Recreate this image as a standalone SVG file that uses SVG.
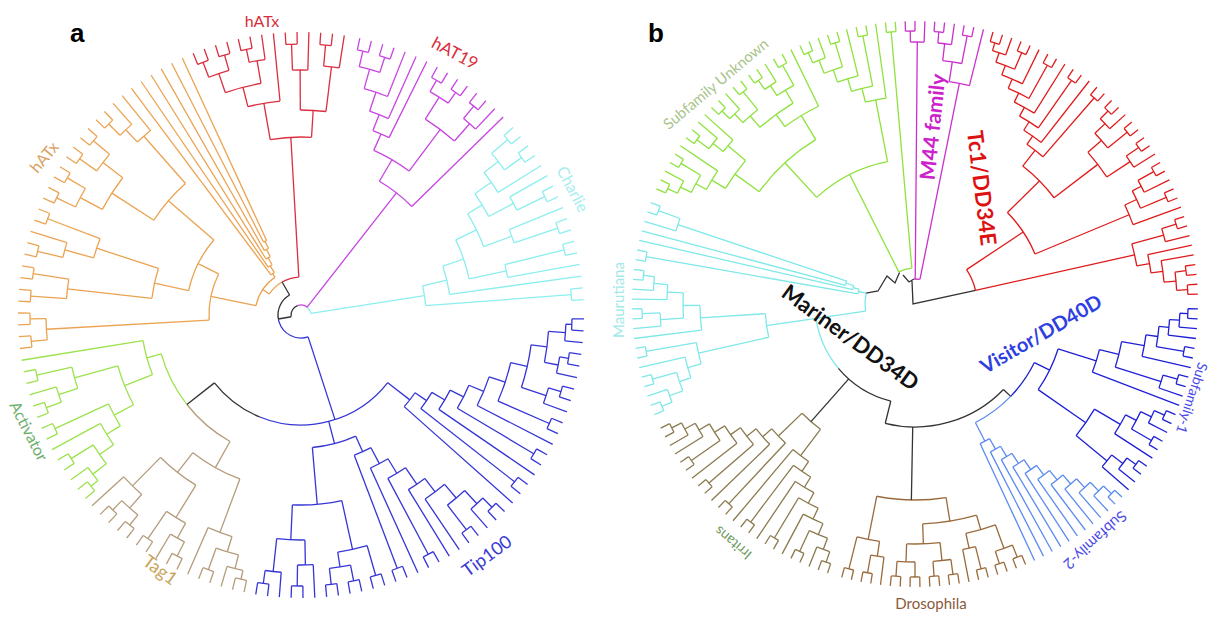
<svg xmlns="http://www.w3.org/2000/svg" xmlns:xlink="http://www.w3.org/1999/xlink" width="1215" height="624" viewBox="0 0 1215 624">
<style>
.t{fill:none;stroke-width:1.3}
.cy{stroke:#8CEEEE}.bl{stroke:#3535D5}.tn{stroke:#B49C7C}.gr{stroke:#9CE24C}.or{stroke:#EBA352}.rd{stroke:#D92F40}.mg{stroke:#C845E2}.k{stroke:#333}
.g2{stroke:#8EE23E}.m2{stroke:#CC30CC}.r2{stroke:#E01A1A}.b1{stroke:#1F1FD6}.b2{stroke:#5B8BF0}.dr{stroke:#9A6A3C}.ir{stroke:#8A7A4E}.c2{stroke:#7FE8E8}
text{font-family:Lato,"Open Sans","Liberation Sans",sans-serif;text-anchor:middle}
.lt{font-family:"Liberation Sans",Arial,sans-serif;font-weight:bold;font-size:26px;fill:#000;text-anchor:start}
</style>
<defs>
<g id="k"><path d="M271 0H283"/><path d="M271 0H283" transform="rotate(2.4)"/><circle r="271" pathLength="360" stroke-dasharray="2.4 999"/></g>
<g id="q"><path d="M273 0H283"/><path d="M273 0H283" transform="rotate(2)"/><circle r="273" pathLength="360" stroke-dasharray="2 999"/></g>
</defs>

<text class="lt" x="70" y="42">a</text>
<text class="lt" x="648" y="42">b</text>

<g id="treeA" class="t" transform="translate(301 315)">
<g id="a-charlie" class="cy">
<use href="#k" transform="rotate(-41.5)"/><use href="#k" transform="rotate(-36.7)"/><use href="#k" transform="rotate(-27.1)"/><use href="#k" transform="rotate(-19.9)"/><use href="#k" transform="rotate(-15.1)"/><use href="#k" transform="rotate(-5.5)"/>
<path d="M232 0H283" transform="rotate(-31.9)"/><path d="M240 0H283" transform="rotate(-29.5)"/><path d="M225 0H283" transform="rotate(-22.3)"/><path d="M210 0H283" transform="rotate(-10.3)"/><path d="M150 0H283" transform="rotate(-7.9)"/>
<path d="M250 0H271" transform="rotate(-40.3)"/><path d="M250 0H271" transform="rotate(-35.5)"/><path d="M240 0H271" transform="rotate(-25.9)"/><path d="M225 0H271" transform="rotate(-18.7)"/><path d="M210 0H271" transform="rotate(-13.9)"/><path d="M125 0H271" transform="rotate(-4.3)"/>
<circle r="250" pathLength="360" stroke-dasharray="4.8 999" transform="rotate(-40.3)"/><path d="M232 0H250" transform="rotate(-37.9)"/>
<circle r="232" pathLength="360" stroke-dasharray="6 999" transform="rotate(-37.9)"/><path d="M212 0H232" transform="rotate(-34.9)"/>
<circle r="240" pathLength="360" stroke-dasharray="3.6 999" transform="rotate(-29.5)"/><path d="M212 0H240" transform="rotate(-27.7)"/>
<circle r="212" pathLength="360" stroke-dasharray="7.2 999" transform="rotate(-34.9)"/><path d="M195 0H212" transform="rotate(-31.3)"/>
<circle r="225" pathLength="360" stroke-dasharray="3.6 999" transform="rotate(-22.3)"/><path d="M195 0H225" transform="rotate(-20.5)"/>
<circle r="195" pathLength="360" stroke-dasharray="10.8 999" transform="rotate(-31.3)"/><path d="M172 0H195" transform="rotate(-25.9)"/>
<circle r="210" pathLength="360" stroke-dasharray="3.6 999" transform="rotate(-13.9)"/><path d="M172 0H210" transform="rotate(-12.1)"/>
<circle r="172" pathLength="360" stroke-dasharray="13.8 999" transform="rotate(-25.9)"/><path d="M150 0H172" transform="rotate(-19)"/>
<circle r="150" pathLength="360" stroke-dasharray="11.1 999" transform="rotate(-19)"/><path d="M125 0H150" transform="rotate(-13.45)"/>
<circle r="125" pathLength="360" stroke-dasharray="9.15 999" transform="rotate(-13.45)"/><path d="M10 0H125" transform="rotate(-8.875)"/>
<circle r="10" pathLength="360" stroke-dasharray="43.125 999" transform="rotate(308)"/>
</g>
<g id="a-tip100" class="bl">
<use href="#k" transform="rotate(0.8)"/><use href="#k" transform="rotate(8)"/><use href="#k" transform="rotate(15.2)"/><use href="#k" transform="rotate(22.4)"/><use href="#k" transform="rotate(29.6)"/><use href="#k" transform="rotate(36.8)"/>
<path d="M265 0H283" transform="rotate(5.6)"/><path d="M262 0H283" transform="rotate(12.8)"/><path d="M258 0H283" transform="rotate(20)"/><path d="M198 0H283" transform="rotate(27.2)"/><path d="M167 0H283" transform="rotate(34.4)"/><path d="M138 0H283" transform="rotate(41.6)"/>
<path d="M265 0H271" transform="rotate(2)"/><path d="M262 0H271" transform="rotate(9.2)"/><path d="M258 0H271" transform="rotate(16.4)"/><path d="M215 0H271" transform="rotate(23.6)"/><path d="M182 0H271" transform="rotate(30.8)"/><path d="M152 0H271" transform="rotate(38)"/>
<circle r="265" pathLength="360" stroke-dasharray="3.6 999" transform="rotate(2)"/><path d="M248 0H265" transform="rotate(3.8)"/>
<circle r="262" pathLength="360" stroke-dasharray="3.6 999" transform="rotate(9.2)"/><path d="M248 0H262" transform="rotate(11)"/>
<circle r="248" pathLength="360" stroke-dasharray="7.2 999" transform="rotate(3.8)"/><path d="M232 0H248" transform="rotate(7.4)"/>
<circle r="258" pathLength="360" stroke-dasharray="3.6 999" transform="rotate(16.4)"/><path d="M232 0H258" transform="rotate(18.2)"/>
<circle r="232" pathLength="360" stroke-dasharray="10.8 999" transform="rotate(7.4)"/><path d="M215 0H232" transform="rotate(12.8)"/>
<circle r="215" pathLength="360" stroke-dasharray="10.8 999" transform="rotate(12.8)"/><path d="M198 0H215" transform="rotate(18.2)"/>
<circle r="198" pathLength="360" stroke-dasharray="9 999" transform="rotate(18.2)"/><path d="M182 0H198" transform="rotate(22.7)"/>
<circle r="182" pathLength="360" stroke-dasharray="8.1 999" transform="rotate(22.7)"/><path d="M167 0H182" transform="rotate(26.75)"/>
<circle r="167" pathLength="360" stroke-dasharray="7.65 999" transform="rotate(26.75)"/><path d="M152 0H167" transform="rotate(30.575)"/>
<circle r="152" pathLength="360" stroke-dasharray="7.425 999" transform="rotate(30.575)"/><path d="M138 0H152" transform="rotate(34.29)"/>
<circle r="138" pathLength="360" stroke-dasharray="7.31 999" transform="rotate(34.29)"/><path d="M110 0H138" transform="rotate(37.95)"/>
<use href="#k" transform="rotate(44)"/><path d="M258 0H271" transform="rotate(45.2)"/><path d="M258 0H283" transform="rotate(48.8)"/>
<circle r="258" pathLength="360" stroke-dasharray="3.6 999" transform="rotate(45.2)"/><path d="M240 0H258" transform="rotate(47)"/>
<use href="#k" transform="rotate(51.2)"/><path d="M240 0H271" transform="rotate(52.4)"/>
<circle r="240" pathLength="360" stroke-dasharray="5.4 999" transform="rotate(47)"/><path d="M222 0H240" transform="rotate(49.7)"/>
<path d="M222 0H283" transform="rotate(56)"/><circle r="222" pathLength="360" stroke-dasharray="6.3 999" transform="rotate(49.7)"/><path d="M205 0H222" transform="rotate(52.85)"/>
<path d="M205 0H283" transform="rotate(58.4)"/><circle r="205" pathLength="360" stroke-dasharray="5.55 999" transform="rotate(52.85)"/><path d="M185 0H205" transform="rotate(55.625)"/>
<use href="#k" transform="rotate(60.8)"/><path d="M185 0H271" transform="rotate(62)"/><circle r="185" pathLength="360" stroke-dasharray="6.375 999" transform="rotate(55.625)"/><path d="M168 0H185" transform="rotate(58.81)"/>
<path d="M168 0H283" transform="rotate(65.6)"/><circle r="168" pathLength="360" stroke-dasharray="6.79 999" transform="rotate(58.81)"/><path d="M150 0H168" transform="rotate(62.2)"/>
<use href="#k" transform="rotate(68)"/><path d="M150 0H271" transform="rotate(69.2)"/><circle r="150" pathLength="360" stroke-dasharray="7 999" transform="rotate(62.2)"/><path d="M133 0H150" transform="rotate(65.7)"/>
<use href="#k" transform="rotate(96.8)"/><path d="M258 0H271" transform="rotate(98)"/><path d="M258 0H283" transform="rotate(94.4)"/>
<circle r="258" pathLength="360" stroke-dasharray="3.6 999" transform="rotate(94.4)"/><path d="M225 0H258" transform="rotate(96.2)"/>
<use href="#k" transform="rotate(89.6)"/><path d="M250 0H271" transform="rotate(90.8)"/><path d="M250 0H283" transform="rotate(87.2)"/>
<circle r="250" pathLength="360" stroke-dasharray="3.6 999" transform="rotate(87.2)"/><path d="M225 0H250" transform="rotate(89)"/>
<circle r="225" pathLength="360" stroke-dasharray="7.2 999" transform="rotate(89)"/><path d="M190 0H225" transform="rotate(92.6)"/>
<use href="#k" transform="rotate(82.4)"/><path d="M255 0H271" transform="rotate(83.6)"/><use href="#k" transform="rotate(77.6)"/><path d="M255 0H271" transform="rotate(78.8)"/>
<circle r="255" pathLength="360" stroke-dasharray="4.8 999" transform="rotate(78.8)"/><path d="M240 0H255" transform="rotate(81.2)"/>
<use href="#k" transform="rotate(72.8)"/><path d="M240 0H271" transform="rotate(74)"/>
<circle r="240" pathLength="360" stroke-dasharray="7.2 999" transform="rotate(74)"/><path d="M190 0H240" transform="rotate(77.6)"/>
<circle r="190" pathLength="360" stroke-dasharray="15 999" transform="rotate(77.6)"/><path d="M133 0H190" transform="rotate(85.1)"/>
<circle r="133" pathLength="360" stroke-dasharray="19.4 999" transform="rotate(65.7)"/><path d="M110 0H133" transform="rotate(75.4)"/>
<circle r="110" pathLength="360" stroke-dasharray="74.05 999" transform="rotate(37.95)"/>
<path d="M23 0H110" transform="rotate(72)"/>
<circle r="23" pathLength="360" stroke-dasharray="98 999" transform="rotate(72)"/>
</g>
<g id="a-tag1" class="tn">
<use href="#k" transform="rotate(101.6)"/><path d="M262 0H271" transform="rotate(102.8)"/><path d="M262 0H283" transform="rotate(106.4)"/>
<circle r="262" pathLength="360" stroke-dasharray="3.6 999" transform="rotate(102.8)"/><path d="M248 0H262" transform="rotate(104.6)"/>
<use href="#k" transform="rotate(108.8)"/><path d="M248 0H271" transform="rotate(110)"/>
<circle r="248" pathLength="360" stroke-dasharray="5.4 999" transform="rotate(104.6)"/><path d="M232 0H248" transform="rotate(107.3)"/>
<path d="M232 0H283" transform="rotate(113.6)"/><circle r="232" pathLength="360" stroke-dasharray="6.3 999" transform="rotate(107.3)"/><path d="M175 0H232" transform="rotate(110.45)"/>
<use href="#k" transform="rotate(116)"/><path d="M255 0H271" transform="rotate(117.2)"/><path d="M255 0H283" transform="rotate(120.8)"/>
<circle r="255" pathLength="360" stroke-dasharray="3.6 999" transform="rotate(117.2)"/><path d="M238 0H255" transform="rotate(119)"/>
<use href="#k" transform="rotate(123.2)"/><path d="M238 0H271" transform="rotate(124.4)"/>
<circle r="238" pathLength="360" stroke-dasharray="5.4 999" transform="rotate(119)"/><path d="M200 0H238" transform="rotate(121.7)"/>
<use href="#k" transform="rotate(128)"/><path d="M258 0H271" transform="rotate(129.2)"/><use href="#k" transform="rotate(132.8)"/><path d="M258 0H271" transform="rotate(134)"/>
<circle r="258" pathLength="360" stroke-dasharray="4.8 999" transform="rotate(129.2)"/><path d="M240 0H258" transform="rotate(131.6)"/>
<path d="M240 0H283" transform="rotate(137.6)"/><circle r="240" pathLength="360" stroke-dasharray="6 999" transform="rotate(131.6)"/><path d="M200 0H240" transform="rotate(134.6)"/>
<circle r="200" pathLength="360" stroke-dasharray="12.9 999" transform="rotate(121.7)"/><path d="M175 0H200" transform="rotate(128.15)"/>
<circle r="175" pathLength="360" stroke-dasharray="17.7 999" transform="rotate(110.45)"/><path d="M145 0H175" transform="rotate(119.3)"/>
<circle r="145" pathLength="360" stroke-dasharray="22.6 999" transform="rotate(119.3)"/>
</g>
<g id="a-activator" class="gr">
<use href="#k" transform="rotate(139.6)"/><path d="M262 0H271" transform="rotate(140.8)"/><path d="M262 0H283" transform="rotate(144.4)"/>
<circle r="262" pathLength="360" stroke-dasharray="3.6 999" transform="rotate(140.8)"/><path d="M245 0H262" transform="rotate(142.6)"/>
<use href="#k" transform="rotate(146.8)"/><path d="M245 0H271" transform="rotate(148)"/>
<circle r="245" pathLength="360" stroke-dasharray="5.4 999" transform="rotate(142.6)"/><path d="M228 0H245" transform="rotate(145.3)"/>
<path d="M228 0H283" transform="rotate(151.6)"/><circle r="228" pathLength="360" stroke-dasharray="6.3 999" transform="rotate(145.3)"/><path d="M212 0H228" transform="rotate(148.45)"/>
<use href="#k" transform="rotate(154)"/><path d="M212 0H271" transform="rotate(155.2)"/>
<circle r="212" pathLength="360" stroke-dasharray="6.75 999" transform="rotate(148.45)"/><path d="M190 0H212" transform="rotate(151.8)"/>
<use href="#k" transform="rotate(158.8)"/><path d="M255 0H271" transform="rotate(160)"/><path d="M255 0H283" transform="rotate(163.6)"/>
<circle r="255" pathLength="360" stroke-dasharray="3.6 999" transform="rotate(160)"/><path d="M235 0H255" transform="rotate(161.8)"/>
<use href="#k" transform="rotate(166)"/><path d="M235 0H271" transform="rotate(167.2)"/>
<circle r="235" pathLength="360" stroke-dasharray="5.4 999" transform="rotate(161.8)"/><path d="M190 0H235" transform="rotate(164.5)"/>
<circle r="190" pathLength="360" stroke-dasharray="12.7 999" transform="rotate(151.8)"/><path d="M160 0H190" transform="rotate(158.15)"/>
<path d="M160 0H283" transform="rotate(170.8)"/><circle r="160" pathLength="360" stroke-dasharray="12.65 999" transform="rotate(158.15)"/><path d="M145 0H160" transform="rotate(164.475)"/>
<circle r="145" pathLength="360" stroke-dasharray="22.575 999" transform="rotate(141.9)"/>
</g>
<g id="a-hatx-orange" class="or">
<use href="#k" transform="rotate(173.2)"/><path d="M255 0H271" transform="rotate(174.4)"/><use href="#k" transform="rotate(178)"/><path d="M255 0H271" transform="rotate(179.2)"/>
<circle r="255" pathLength="360" stroke-dasharray="4.8 999" transform="rotate(174.4)"/><path d="M92 0H255" transform="rotate(176.8)"/>
<use href="#k" transform="rotate(182.8)"/><path d="M235 0H271" transform="rotate(184)"/><use href="#k" transform="rotate(187.6)"/><path d="M235 0H271" transform="rotate(188.8)"/>
<circle r="235" pathLength="360" stroke-dasharray="4.8 999" transform="rotate(184)"/><path d="M150 0H235" transform="rotate(186.4)"/>
<use href="#k" transform="rotate(192.4)"/><path d="M245 0H271" transform="rotate(193.6)"/><path d="M245 0H283" transform="rotate(197.2)"/>
<circle r="245" pathLength="360" stroke-dasharray="3.6 999" transform="rotate(193.6)"/><path d="M215 0H245" transform="rotate(195.4)"/>
<use href="#k" transform="rotate(199.6)"/><path d="M215 0H271" transform="rotate(200.8)"/>
<circle r="215" pathLength="360" stroke-dasharray="5.4 999" transform="rotate(195.4)"/><path d="M150 0H215" transform="rotate(198.1)"/>
<circle r="150" pathLength="360" stroke-dasharray="11.7 999" transform="rotate(186.4)"/><path d="M115 0H150" transform="rotate(192.25)"/>
<use href="#k" transform="rotate(204.4)"/><path d="M250 0H271" transform="rotate(205.6)"/><use href="#k" transform="rotate(209.2)"/><path d="M250 0H271" transform="rotate(210.4)"/>
<circle r="250" pathLength="360" stroke-dasharray="4.8 999" transform="rotate(205.6)"/><path d="M225 0H250" transform="rotate(208)"/>
<use href="#k" transform="rotate(214)"/><path d="M250 0H271" transform="rotate(215.2)"/><use href="#k" transform="rotate(218.8)"/><path d="M250 0H271" transform="rotate(220)"/>
<circle r="250" pathLength="360" stroke-dasharray="4.8 999" transform="rotate(215.2)"/><path d="M225 0H250" transform="rotate(217.6)"/>
<circle r="225" pathLength="360" stroke-dasharray="9.6 999" transform="rotate(208)"/><path d="M175 0H225" transform="rotate(212.8)"/>
<use href="#k" transform="rotate(223.6)"/><path d="M255 0H271" transform="rotate(224.8)"/><path d="M255 0H283" transform="rotate(228.4)"/>
<circle r="255" pathLength="360" stroke-dasharray="3.6 999" transform="rotate(224.8)"/><path d="M238 0H255" transform="rotate(226.6)"/>
<path d="M238 0H283" transform="rotate(230.8)"/><circle r="238" pathLength="360" stroke-dasharray="4.2 999" transform="rotate(226.6)"/><path d="M175 0H238" transform="rotate(228.7)"/>
<circle r="175" pathLength="360" stroke-dasharray="15.9 999" transform="rotate(212.8)"/><path d="M115 0H175" transform="rotate(220.75)"/>
<circle r="115" pathLength="360" stroke-dasharray="28.5 999" transform="rotate(192.25)"/><path d="M92 0H115" transform="rotate(206.5)"/>
<circle r="92" pathLength="360" stroke-dasharray="29.7 999" transform="rotate(176.8)"/><path d="M46 0H92" transform="rotate(191.65)"/>
<path d="M82 0H283" transform="rotate(242.8)"/><path d="M82 0H283" transform="rotate(245.2)"/><circle r="82" pathLength="360" stroke-dasharray="2.4 999" transform="rotate(242.8)"/><path d="M74 0H82" transform="rotate(244)"/>
<path d="M74 0H283" transform="rotate(240.4)"/><circle r="74" pathLength="360" stroke-dasharray="3.6 999" transform="rotate(240.4)"/><path d="M66 0H74" transform="rotate(242.2)"/>
<path d="M66 0H283" transform="rotate(238)"/><circle r="66" pathLength="360" stroke-dasharray="4.2 999" transform="rotate(238)"/><path d="M58 0H66" transform="rotate(240.1)"/>
<path d="M58 0H283" transform="rotate(235.6)"/><circle r="58" pathLength="360" stroke-dasharray="4.5 999" transform="rotate(235.6)"/><path d="M50 0H58" transform="rotate(237.85)"/>
<path d="M50 0H283" transform="rotate(233.2)"/><circle r="50" pathLength="360" stroke-dasharray="4.65 999" transform="rotate(233.2)"/><path d="M46 0H50" transform="rotate(235.5)"/>
<circle r="46" pathLength="360" stroke-dasharray="43.85 999" transform="rotate(191.65)"/><path d="M38 0H46" transform="rotate(213.6)"/>
<circle r="38" pathLength="360" stroke-dasharray="26.56 999" transform="rotate(213.6)"/>
</g>
<g id="a-hatx-red" class="rd">
<use href="#k" transform="rotate(247.6)"/><path d="M255 0H271" transform="rotate(248.8)"/><use href="#k" transform="rotate(252.4)"/><path d="M255 0H271" transform="rotate(253.6)"/>
<circle r="255" pathLength="360" stroke-dasharray="4.8 999" transform="rotate(248.8)"/><path d="M235 0H255" transform="rotate(251.2)"/>
<use href="#k" transform="rotate(257.2)"/><path d="M258 0H271" transform="rotate(258.4)"/><path d="M258 0H283" transform="rotate(262)"/>
<circle r="258" pathLength="360" stroke-dasharray="3.6 999" transform="rotate(258.4)"/><path d="M235 0H258" transform="rotate(260.2)"/>
<circle r="235" pathLength="360" stroke-dasharray="9 999" transform="rotate(251.2)"/><path d="M215 0H235" transform="rotate(255.7)"/>
<path d="M215 0H283" transform="rotate(264.4)"/><circle r="215" pathLength="360" stroke-dasharray="8.7 999" transform="rotate(255.7)"/><path d="M178 0H215" transform="rotate(260.05)"/>
<use href="#k" transform="rotate(266.8)"/><path d="M245 0H271" transform="rotate(268)"/><path d="M245 0H283" transform="rotate(271.6)"/>
<circle r="245" pathLength="360" stroke-dasharray="3.6 999" transform="rotate(268)"/><path d="M205 0H245" transform="rotate(269.8)"/>
<use href="#k" transform="rotate(274)"/><path d="M250 0H271" transform="rotate(275.2)"/><path d="M250 0H283" transform="rotate(278.8)"/>
<circle r="250" pathLength="360" stroke-dasharray="3.6 999" transform="rotate(275.2)"/><path d="M205 0H250" transform="rotate(277)"/>
<circle r="205" pathLength="360" stroke-dasharray="7.2 999" transform="rotate(269.8)"/><path d="M178 0H205" transform="rotate(273.4)"/>
<circle r="178" pathLength="360" stroke-dasharray="13.35 999" transform="rotate(260.05)"/><path d="M38 0H178" transform="rotate(266.725)"/>
<circle r="38" pathLength="360" stroke-dasharray="26.565 999" transform="rotate(240.16)"/>
</g>
<g id="a-hat19" class="mg">
<use href="#k" transform="rotate(282)"/><path d="M255 0H271" transform="rotate(283.2)"/><use href="#k" transform="rotate(286.8)"/><path d="M255 0H271" transform="rotate(288)"/>
<circle r="255" pathLength="360" stroke-dasharray="4.8 999" transform="rotate(283.2)"/><path d="M235 0H255" transform="rotate(285.6)"/>
<path d="M235 0H283" transform="rotate(291.6)"/><circle r="235" pathLength="360" stroke-dasharray="6 999" transform="rotate(285.6)"/><path d="M215 0H235" transform="rotate(288.6)"/>
<path d="M215 0H283" transform="rotate(294)"/><circle r="215" pathLength="360" stroke-dasharray="5.4 999" transform="rotate(288.6)"/><path d="M198 0H215" transform="rotate(291.3)"/>
<path d="M198 0H283" transform="rotate(296.4)"/><circle r="198" pathLength="360" stroke-dasharray="5.1 999" transform="rotate(291.3)"/><path d="M180 0H198" transform="rotate(293.85)"/>
<use href="#k" transform="rotate(298.8)"/><path d="M258 0H271" transform="rotate(300)"/><use href="#k" transform="rotate(303.6)"/><path d="M258 0H271" transform="rotate(304.8)"/>
<circle r="258" pathLength="360" stroke-dasharray="4.8 999" transform="rotate(300)"/><path d="M232 0H258" transform="rotate(302.4)"/>
<use href="#k" transform="rotate(308.4)"/><path d="M255 0H271" transform="rotate(309.6)"/><path d="M255 0H283" transform="rotate(313.2)"/>
<circle r="255" pathLength="360" stroke-dasharray="3.6 999" transform="rotate(309.6)"/><path d="M232 0H255" transform="rotate(311.4)"/>
<circle r="232" pathLength="360" stroke-dasharray="9 999" transform="rotate(302.4)"/><path d="M180 0H232" transform="rotate(306.9)"/>
<circle r="180" pathLength="360" stroke-dasharray="13.05 999" transform="rotate(293.85)"/><path d="M155 0H180" transform="rotate(300.375)"/>
<path d="M155 0H283" transform="rotate(315.6)"/><circle r="155" pathLength="360" stroke-dasharray="15.225 999" transform="rotate(300.375)"/>
<path d="M10 0H155" transform="rotate(308)"/>
<circle r="10" pathLength="360" stroke-dasharray="58 999" transform="rotate(250)"/>
</g>
<g id="a-root" class="k">
<circle r="23" pathLength="360" stroke-dasharray="70.16 999" transform="rotate(170)"/>
<path d="M10 0H23" transform="rotate(170)"/>
<circle r="10" pathLength="360" stroke-dasharray="80 999" transform="rotate(170)"/>
<path d="M23 0H38" transform="rotate(240.16)"/>
<circle r="110" pathLength="360" stroke-dasharray="29.9 999" transform="rotate(112)"/>
<path d="M110 0H145" transform="rotate(141.9)"/>
</g>
</g>

<g id="treeB" class="t" transform="translate(915 304)">
<g id="b-unknown" class="g2">
<use href="#q" transform="rotate(204)"/><path d="M262 0H273" transform="rotate(205)"/><path d="M262 0H283" transform="rotate(208)"/>
<circle r="262" pathLength="360" stroke-dasharray="3 999" transform="rotate(205)"/><path d="M250 0H262" transform="rotate(206.5)"/>
<use href="#q" transform="rotate(210)"/><path d="M250 0H273" transform="rotate(211)"/>
<circle r="250" pathLength="360" stroke-dasharray="4.5 999" transform="rotate(206.5)"/><path d="M238 0H250" transform="rotate(208.75)"/>
<path d="M238 0H283" transform="rotate(214)"/><circle r="238" pathLength="360" stroke-dasharray="5.25 999" transform="rotate(208.75)"/><path d="M222 0H238" transform="rotate(211.375)"/>
<use href="#q" transform="rotate(216)"/><path d="M258 0H273" transform="rotate(217)"/><path d="M258 0H283" transform="rotate(220)"/>
<circle r="258" pathLength="360" stroke-dasharray="3 999" transform="rotate(217)"/><path d="M245 0H258" transform="rotate(218.5)"/>
<path d="M245 0H283" transform="rotate(222)"/><circle r="245" pathLength="360" stroke-dasharray="3.5 999" transform="rotate(218.5)"/><path d="M222 0H245" transform="rotate(220.25)"/>
<circle r="222" pathLength="360" stroke-dasharray="8.875 999" transform="rotate(211.375)"/><path d="M192 0H222" transform="rotate(215.81)"/>
<use href="#q" transform="rotate(224)"/><path d="M262 0H273" transform="rotate(225)"/><path d="M262 0H283" transform="rotate(228)"/>
<circle r="262" pathLength="360" stroke-dasharray="3 999" transform="rotate(225)"/><path d="M250 0H262" transform="rotate(226.5)"/>
<use href="#q" transform="rotate(230)"/><path d="M250 0H273" transform="rotate(231)"/>
<circle r="250" pathLength="360" stroke-dasharray="4.5 999" transform="rotate(226.5)"/><path d="M235 0H250" transform="rotate(228.75)"/>
<use href="#q" transform="rotate(234)"/><path d="M262 0H273" transform="rotate(235)"/><path d="M262 0H283" transform="rotate(238)"/>
<circle r="262" pathLength="360" stroke-dasharray="3 999" transform="rotate(235)"/><path d="M250 0H262" transform="rotate(236.5)"/>
<use href="#q" transform="rotate(240)"/><path d="M250 0H273" transform="rotate(241)"/>
<circle r="250" pathLength="360" stroke-dasharray="4.5 999" transform="rotate(236.5)"/><path d="M235 0H250" transform="rotate(238.75)"/>
<circle r="235" pathLength="360" stroke-dasharray="10 999" transform="rotate(228.75)"/><path d="M220 0H235" transform="rotate(233.75)"/>
<path d="M220 0H283" transform="rotate(244)"/><circle r="220" pathLength="360" stroke-dasharray="10.25 999" transform="rotate(233.75)"/><path d="M192 0H220" transform="rotate(238.875)"/>
<use href="#q" transform="rotate(246)"/><path d="M262 0H273" transform="rotate(247)"/><path d="M262 0H283" transform="rotate(250)"/>
<circle r="262" pathLength="360" stroke-dasharray="3 999" transform="rotate(247)"/><path d="M248 0H262" transform="rotate(248.5)"/>
<use href="#q" transform="rotate(252)"/><path d="M248 0H273" transform="rotate(253)"/>
<circle r="248" pathLength="360" stroke-dasharray="4.5 999" transform="rotate(248.5)"/><path d="M235 0H248" transform="rotate(250.75)"/>
<path d="M235 0H283" transform="rotate(256)"/><circle r="235" pathLength="360" stroke-dasharray="5.25 999" transform="rotate(250.75)"/><path d="M222 0H235" transform="rotate(253.375)"/>
<use href="#q" transform="rotate(258)"/><path d="M222 0H273" transform="rotate(259)"/>
<circle r="222" pathLength="360" stroke-dasharray="5.625 999" transform="rotate(253.375)"/><path d="M208 0H222" transform="rotate(256.19)"/>
<path d="M208 0H283" transform="rotate(262)"/><circle r="208" pathLength="360" stroke-dasharray="5.81 999" transform="rotate(256.19)"/><path d="M145 0H208" transform="rotate(259.1)"/>
<circle r="192" pathLength="360" stroke-dasharray="23.065 999" transform="rotate(215.81)"/><path d="M145 0H192" transform="rotate(227.34)"/>
<circle r="145" pathLength="360" stroke-dasharray="31.76 999" transform="rotate(227.34)"/><path d="M36 0H145" transform="rotate(243.22)"/>
<use href="#q" transform="rotate(264)"/><path d="M36 0H273" transform="rotate(265)"/>
<circle r="36" pathLength="360" stroke-dasharray="21.78 999" transform="rotate(243.22)"/>
</g>
<g id="b-m44" class="m2">
<use href="#q" transform="rotate(268)"/><path d="M262 0H273" transform="rotate(269)"/><path d="M262 0H283" transform="rotate(272)"/>
<circle r="262" pathLength="360" stroke-dasharray="3 999" transform="rotate(269)"/><path d="M25 0H262" transform="rotate(270.5)"/>
<use href="#q" transform="rotate(274)"/><path d="M262 0H273" transform="rotate(275)"/><path d="M262 0H283" transform="rotate(278)"/>
<circle r="262" pathLength="360" stroke-dasharray="3 999" transform="rotate(275)"/><path d="M245 0H262" transform="rotate(276.5)"/>
<use href="#q" transform="rotate(280)"/><path d="M245 0H273" transform="rotate(281)"/>
<circle r="245" pathLength="360" stroke-dasharray="4.5 999" transform="rotate(276.5)"/><path d="M225 0H245" transform="rotate(278.75)"/>
<path d="M225 0H283" transform="rotate(284)"/><circle r="225" pathLength="360" stroke-dasharray="5.25 999" transform="rotate(278.75)"/><path d="M25 0H225" transform="rotate(281.375)"/>
<circle r="25" pathLength="360" stroke-dasharray="13.375 999" transform="rotate(268)"/>
</g>
<g id="b-tc1" class="r2">
<use href="#q" transform="rotate(286)"/><path d="M265 0H273" transform="rotate(287)"/><path d="M265 0H283" transform="rotate(290)"/>
<circle r="265" pathLength="360" stroke-dasharray="3 999" transform="rotate(287)"/><path d="M255 0H265" transform="rotate(288.5)"/>
<use href="#q" transform="rotate(292)"/><path d="M255 0H273" transform="rotate(293)"/>
<circle r="255" pathLength="360" stroke-dasharray="4.5 999" transform="rotate(288.5)"/><path d="M245 0H255" transform="rotate(290.75)"/>
<path d="M245 0H283" transform="rotate(296)"/><circle r="245" pathLength="360" stroke-dasharray="5.25 999" transform="rotate(290.75)"/><path d="M235 0H245" transform="rotate(293.375)"/>
<use href="#q" transform="rotate(298)"/><path d="M235 0H273" transform="rotate(299)"/>
<circle r="235" pathLength="360" stroke-dasharray="5.625 999" transform="rotate(293.375)"/><path d="M225 0H235" transform="rotate(296.19)"/>
<path d="M225 0H283" transform="rotate(302)"/><circle r="225" pathLength="360" stroke-dasharray="5.81 999" transform="rotate(296.19)"/><path d="M215 0H225" transform="rotate(299.1)"/>
<use href="#q" transform="rotate(304)"/><path d="M215 0H273" transform="rotate(305)"/>
<circle r="215" pathLength="360" stroke-dasharray="5.9 999" transform="rotate(299.1)"/><path d="M205 0H215" transform="rotate(302.05)"/>
<path d="M205 0H283" transform="rotate(308)"/><circle r="205" pathLength="360" stroke-dasharray="5.95 999" transform="rotate(302.05)"/><path d="M195 0H205" transform="rotate(305.03)"/>
<use href="#q" transform="rotate(310)"/><path d="M195 0H273" transform="rotate(311)"/>
<circle r="195" pathLength="360" stroke-dasharray="5.97 999" transform="rotate(305.03)"/><path d="M175 0H195" transform="rotate(308)"/>
<use href="#q" transform="rotate(314)"/><path d="M262 0H273" transform="rotate(315)"/><path d="M262 0H283" transform="rotate(318)"/>
<circle r="262" pathLength="360" stroke-dasharray="3 999" transform="rotate(315)"/><path d="M248 0H262" transform="rotate(316.5)"/>
<use href="#q" transform="rotate(320)"/><path d="M248 0H273" transform="rotate(321)"/>
<circle r="248" pathLength="360" stroke-dasharray="4.5 999" transform="rotate(316.5)"/><path d="M230 0H248" transform="rotate(318.75)"/>
<use href="#q" transform="rotate(324)"/><path d="M258 0H273" transform="rotate(325)"/><path d="M258 0H283" transform="rotate(328)"/>
<circle r="258" pathLength="360" stroke-dasharray="3 999" transform="rotate(325)"/><path d="M230 0H258" transform="rotate(326.5)"/>
<circle r="230" pathLength="360" stroke-dasharray="7.75 999" transform="rotate(318.75)"/><path d="M175 0H230" transform="rotate(322.625)"/>
<use href="#q" transform="rotate(330)"/><path d="M255 0H273" transform="rotate(331)"/><path d="M255 0H283" transform="rotate(334)"/>
<circle r="255" pathLength="360" stroke-dasharray="3 999" transform="rotate(331)"/><path d="M245 0H255" transform="rotate(332.5)"/>
<use href="#q" transform="rotate(336)"/><path d="M245 0H273" transform="rotate(337)"/>
<circle r="245" pathLength="360" stroke-dasharray="4.5 999" transform="rotate(332.5)"/><path d="M232 0H245" transform="rotate(334.75)"/>
<path d="M232 0H283" transform="rotate(340)"/><circle r="232" pathLength="360" stroke-dasharray="5.25 999" transform="rotate(334.75)"/><path d="M130 0H232" transform="rotate(337.375)"/>
<use href="#q" transform="rotate(352)"/><path d="M262 0H273" transform="rotate(353)"/><use href="#q" transform="rotate(356)"/><path d="M262 0H273" transform="rotate(357)"/>
<circle r="262" pathLength="360" stroke-dasharray="4 999" transform="rotate(353)"/><path d="M250 0H262" transform="rotate(355)"/>
<path d="M250 0H283" transform="rotate(350)"/><circle r="250" pathLength="360" stroke-dasharray="5 999" transform="rotate(350)"/><path d="M238 0H250" transform="rotate(352.5)"/>
<path d="M238 0H283" transform="rotate(348)"/><circle r="238" pathLength="360" stroke-dasharray="4.5 999" transform="rotate(348)"/><path d="M225 0H238" transform="rotate(350.25)"/>
<use href="#q" transform="rotate(342)"/><path d="M258 0H273" transform="rotate(343)"/><path d="M258 0H283" transform="rotate(346)"/>
<circle r="258" pathLength="360" stroke-dasharray="3 999" transform="rotate(343)"/><path d="M225 0H258" transform="rotate(344.5)"/>
<circle r="225" pathLength="360" stroke-dasharray="5.75 999" transform="rotate(344.5)"/><path d="M62 0H225" transform="rotate(347.375)"/>
<circle r="175" pathLength="360" stroke-dasharray="14.625 999" transform="rotate(308)"/><path d="M130 0H175" transform="rotate(315.31)"/>
<circle r="130" pathLength="360" stroke-dasharray="22.065 999" transform="rotate(315.31)"/><path d="M62 0H130" transform="rotate(326.34)"/>
<circle r="62" pathLength="360" stroke-dasharray="21.035 999" transform="rotate(326.34)"/>
</g>
<g id="b-sub1" class="b1">
<use href="#q" transform="rotate(1)"/><path d="M265 0H273" transform="rotate(2)"/><path d="M265 0H283" transform="rotate(5)"/>
<circle r="265" pathLength="360" stroke-dasharray="3 999" transform="rotate(2)"/><path d="M255 0H265" transform="rotate(3.5)"/>
<path d="M255 0H283" transform="rotate(7)"/><circle r="255" pathLength="360" stroke-dasharray="3.5 999" transform="rotate(3.5)"/><path d="M245 0H255" transform="rotate(5.25)"/>
<use href="#q" transform="rotate(9)"/><path d="M245 0H273" transform="rotate(10)"/>
<circle r="245" pathLength="360" stroke-dasharray="4.75 999" transform="rotate(5.25)"/><path d="M233 0H245" transform="rotate(7.625)"/>
<path d="M233 0H283" transform="rotate(13)"/><circle r="233" pathLength="360" stroke-dasharray="5.375 999" transform="rotate(7.625)"/><path d="M210 0H233" transform="rotate(10.31)"/>
<use href="#q" transform="rotate(15)"/><path d="M258 0H273" transform="rotate(16)"/><path d="M258 0H283" transform="rotate(19)"/>
<circle r="258" pathLength="360" stroke-dasharray="3 999" transform="rotate(16)"/><path d="M210 0H258" transform="rotate(17.5)"/>
<circle r="210" pathLength="360" stroke-dasharray="7.19 999" transform="rotate(10.31)"/><path d="M190 0H210" transform="rotate(13.9)"/>
<path d="M190 0H283" transform="rotate(21)"/><circle r="190" pathLength="360" stroke-dasharray="7.1 999" transform="rotate(13.9)"/><path d="M150 0H190" transform="rotate(17.45)"/>
<use href="#q" transform="rotate(23)"/><path d="M262 0H273" transform="rotate(24)"/><path d="M262 0H283" transform="rotate(27)"/>
<circle r="262" pathLength="360" stroke-dasharray="3 999" transform="rotate(24)"/><path d="M250 0H262" transform="rotate(25.5)"/>
<use href="#q" transform="rotate(29)"/><path d="M250 0H273" transform="rotate(30)"/>
<circle r="250" pathLength="360" stroke-dasharray="4.5 999" transform="rotate(25.5)"/><path d="M238 0H250" transform="rotate(27.75)"/>
<path d="M238 0H283" transform="rotate(33)"/><circle r="238" pathLength="360" stroke-dasharray="5.25 999" transform="rotate(27.75)"/><path d="M208 0H238" transform="rotate(30.375)"/>
<use href="#q" transform="rotate(35)"/><path d="M262 0H273" transform="rotate(36)"/><path d="M262 0H283" transform="rotate(39)"/>
<circle r="262" pathLength="360" stroke-dasharray="3 999" transform="rotate(36)"/><path d="M248 0H262" transform="rotate(37.5)"/>
<path d="M248 0H283" transform="rotate(41)"/><circle r="248" pathLength="360" stroke-dasharray="3.5 999" transform="rotate(37.5)"/><path d="M208 0H248" transform="rotate(39.25)"/>
<circle r="208" pathLength="360" stroke-dasharray="8.875 999" transform="rotate(30.375)"/><path d="M150 0H208" transform="rotate(34.81)"/>
<circle r="150" pathLength="360" stroke-dasharray="17.36 999" transform="rotate(17.45)"/><path d="M133 0H150" transform="rotate(26.13)"/>
<circle r="133" pathLength="360" stroke-dasharray="17.87 999" transform="rotate(26.13)"/>
</g>
<g id="b-sub2" class="b2">
<use href="#q" transform="rotate(43)"/><path d="M262 0H273" transform="rotate(44)"/><path d="M262 0H283" transform="rotate(47)"/>
<circle r="262" pathLength="360" stroke-dasharray="3 999" transform="rotate(44)"/><path d="M250 0H262" transform="rotate(45.5)"/>
<path d="M250 0H283" transform="rotate(49)"/><circle r="250" pathLength="360" stroke-dasharray="3.5 999" transform="rotate(45.5)"/><path d="M238 0H250" transform="rotate(47.25)"/>
<path d="M238 0H283" transform="rotate(51)"/><circle r="238" pathLength="360" stroke-dasharray="3.75 999" transform="rotate(47.25)"/><path d="M226 0H238" transform="rotate(49.125)"/>
<path d="M226 0H283" transform="rotate(53)"/><circle r="226" pathLength="360" stroke-dasharray="3.875 999" transform="rotate(49.125)"/><path d="M214 0H226" transform="rotate(51.06)"/>
<path d="M214 0H283" transform="rotate(55)"/><circle r="214" pathLength="360" stroke-dasharray="3.94 999" transform="rotate(51.06)"/><path d="M202 0H214" transform="rotate(53.03)"/>
<path d="M202 0H283" transform="rotate(57)"/><circle r="202" pathLength="360" stroke-dasharray="3.97 999" transform="rotate(53.03)"/><path d="M190 0H202" transform="rotate(55.02)"/>
<path d="M190 0H283" transform="rotate(59)"/><circle r="190" pathLength="360" stroke-dasharray="3.98 999" transform="rotate(55.02)"/><path d="M178 0H190" transform="rotate(57.01)"/>
<path d="M178 0H283" transform="rotate(61)"/><circle r="178" pathLength="360" stroke-dasharray="3.99 999" transform="rotate(57.01)"/><path d="M166 0H178" transform="rotate(59)"/>
<path d="M166 0H283" transform="rotate(63)"/><circle r="166" pathLength="360" stroke-dasharray="4 999" transform="rotate(59)"/><path d="M154 0H166" transform="rotate(61)"/>
<path d="M154 0H283" transform="rotate(65)"/><circle r="154" pathLength="360" stroke-dasharray="4 999" transform="rotate(61)"/><path d="M133 0H154" transform="rotate(63)"/>
<circle r="133" pathLength="360" stroke-dasharray="19 999" transform="rotate(44)"/>
</g>
<g id="b-drosophila" class="dr">
<use href="#q" transform="rotate(67)"/><path d="M260 0H273" transform="rotate(68)"/><use href="#q" transform="rotate(71)"/><path d="M260 0H273" transform="rotate(72)"/>
<circle r="260" pathLength="360" stroke-dasharray="4 999" transform="rotate(68)"/><path d="M235 0H260" transform="rotate(70)"/>
<use href="#q" transform="rotate(75)"/><path d="M250 0H273" transform="rotate(76)"/><path d="M250 0H283" transform="rotate(79)"/>
<circle r="250" pathLength="360" stroke-dasharray="3 999" transform="rotate(76)"/><path d="M235 0H250" transform="rotate(77.5)"/>
<circle r="235" pathLength="360" stroke-dasharray="7.5 999" transform="rotate(70)"/><path d="M220 0H235" transform="rotate(73.75)"/>
<use href="#q" transform="rotate(81)"/><path d="M258 0H273" transform="rotate(82)"/><use href="#q" transform="rotate(85)"/><path d="M258 0H273" transform="rotate(86)"/>
<circle r="258" pathLength="360" stroke-dasharray="4 999" transform="rotate(82)"/><path d="M240 0H258" transform="rotate(84)"/>
<use href="#q" transform="rotate(89)"/><path d="M258 0H273" transform="rotate(90)"/><use href="#q" transform="rotate(93)"/><path d="M258 0H273" transform="rotate(94)"/>
<circle r="258" pathLength="360" stroke-dasharray="4 999" transform="rotate(90)"/><path d="M240 0H258" transform="rotate(92)"/>
<circle r="240" pathLength="360" stroke-dasharray="8 999" transform="rotate(84)"/><path d="M220 0H240" transform="rotate(88)"/>
<circle r="220" pathLength="360" stroke-dasharray="14.25 999" transform="rotate(73.75)"/><path d="M196 0H220" transform="rotate(80.875)"/>
<path d="M255 0H283" transform="rotate(97)"/><use href="#q" transform="rotate(99)"/><path d="M255 0H273" transform="rotate(100)"/>
<circle r="255" pathLength="360" stroke-dasharray="3 999" transform="rotate(97)"/><path d="M240 0H255" transform="rotate(98.5)"/>
<use href="#q" transform="rotate(103)"/><path d="M240 0H273" transform="rotate(104)"/>
<circle r="240" pathLength="360" stroke-dasharray="5.5 999" transform="rotate(98.5)"/><path d="M196 0H240" transform="rotate(101.25)"/>
<circle r="196" pathLength="360" stroke-dasharray="20.375 999" transform="rotate(80.875)"/>
</g>
<g id="b-irritans" class="ir">
<use href="#q" transform="rotate(108)"/><path d="M262 0H273" transform="rotate(109)"/><path d="M262 0H283" transform="rotate(112)"/>
<circle r="262" pathLength="360" stroke-dasharray="3 999" transform="rotate(109)"/><path d="M250 0H262" transform="rotate(110.5)"/>
<use href="#q" transform="rotate(114)"/><path d="M250 0H273" transform="rotate(115)"/>
<circle r="250" pathLength="360" stroke-dasharray="4.5 999" transform="rotate(110.5)"/><path d="M238 0H250" transform="rotate(112.75)"/>
<path d="M238 0H283" transform="rotate(118)"/><circle r="238" pathLength="360" stroke-dasharray="5.25 999" transform="rotate(112.75)"/><path d="M226 0H238" transform="rotate(115.375)"/>
<use href="#q" transform="rotate(120)"/><path d="M226 0H273" transform="rotate(121)"/>
<circle r="226" pathLength="360" stroke-dasharray="5.625 999" transform="rotate(115.375)"/><path d="M214 0H226" transform="rotate(118.19)"/>
<path d="M214 0H283" transform="rotate(124)"/><circle r="214" pathLength="360" stroke-dasharray="5.81 999" transform="rotate(118.19)"/><path d="M202 0H214" transform="rotate(121.1)"/>
<use href="#q" transform="rotate(126)"/><path d="M202 0H273" transform="rotate(127)"/>
<circle r="202" pathLength="360" stroke-dasharray="5.9 999" transform="rotate(121.1)"/><path d="M190 0H202" transform="rotate(124.05)"/>
<path d="M190 0H283" transform="rotate(130)"/><circle r="190" pathLength="360" stroke-dasharray="5.95 999" transform="rotate(124.05)"/><path d="M157 0H190" transform="rotate(127.03)"/>
<path d="M262 0H283" transform="rotate(150)"/><use href="#q" transform="rotate(152)"/><path d="M262 0H273" transform="rotate(153)"/>
<circle r="262" pathLength="360" stroke-dasharray="3 999" transform="rotate(150)"/><path d="M250 0H262" transform="rotate(151.5)"/>
<path d="M250 0H283" transform="rotate(148)"/><circle r="250" pathLength="360" stroke-dasharray="3.5 999" transform="rotate(148)"/><path d="M238 0H250" transform="rotate(149.75)"/>
<use href="#q" transform="rotate(144)"/><path d="M238 0H273" transform="rotate(145)"/>
<circle r="238" pathLength="360" stroke-dasharray="4.75 999" transform="rotate(145)"/><path d="M226 0H238" transform="rotate(147.375)"/>
<path d="M226 0H283" transform="rotate(142)"/><circle r="226" pathLength="360" stroke-dasharray="5.375 999" transform="rotate(142)"/><path d="M214 0H226" transform="rotate(144.69)"/>
<use href="#q" transform="rotate(138)"/><path d="M214 0H273" transform="rotate(139)"/>
<circle r="214" pathLength="360" stroke-dasharray="5.69 999" transform="rotate(139)"/><path d="M202 0H214" transform="rotate(141.84)"/>
<path d="M202 0H283" transform="rotate(136)"/><circle r="202" pathLength="360" stroke-dasharray="5.84 999" transform="rotate(136)"/><path d="M190 0H202" transform="rotate(138.92)"/>
<use href="#q" transform="rotate(132)"/><path d="M190 0H273" transform="rotate(133)"/>
<circle r="190" pathLength="360" stroke-dasharray="5.92 999" transform="rotate(133)"/><path d="M157 0H190" transform="rotate(135.96)"/>
<circle r="157" pathLength="360" stroke-dasharray="8.93 999" transform="rotate(127.03)"/>
</g>
<g id="b-maurutiana" class="c2">
<path d="M250 0H283" transform="rotate(197)"/><use href="#q" transform="rotate(199)"/><path d="M250 0H273" transform="rotate(200)"/>
<circle r="250" pathLength="360" stroke-dasharray="3 999" transform="rotate(197)"/><path d="M72 0H250" transform="rotate(198.5)"/>
<path d="M72 0H283" transform="rotate(195)"/><circle r="72" pathLength="360" stroke-dasharray="3.5 999" transform="rotate(195)"/><path d="M64 0H72" transform="rotate(196.75)"/>
<path d="M64 0H283" transform="rotate(193)"/><circle r="64" pathLength="360" stroke-dasharray="3.75 999" transform="rotate(193)"/><path d="M58 0H64" transform="rotate(194.875)"/>
<use href="#q" transform="rotate(189)"/><path d="M58 0H273" transform="rotate(190)"/>
<circle r="58" pathLength="360" stroke-dasharray="4.875 999" transform="rotate(190)"/><path d="M50 0H58" transform="rotate(192.44)"/>
<path d="M262 0H283" transform="rotate(183)"/><use href="#q" transform="rotate(185)"/><path d="M262 0H273" transform="rotate(186)"/>
<circle r="262" pathLength="360" stroke-dasharray="3 999" transform="rotate(183)"/><path d="M248 0H262" transform="rotate(184.5)"/>
<path d="M248 0H283" transform="rotate(181)"/><circle r="248" pathLength="360" stroke-dasharray="3.5 999" transform="rotate(181)"/><path d="M232 0H248" transform="rotate(182.75)"/>
<path d="M255 0H283" transform="rotate(175)"/><use href="#q" transform="rotate(177)"/><path d="M255 0H273" transform="rotate(178)"/>
<circle r="255" pathLength="360" stroke-dasharray="3 999" transform="rotate(175)"/><path d="M232 0H255" transform="rotate(176.5)"/>
<circle r="232" pathLength="360" stroke-dasharray="6.25 999" transform="rotate(176.5)"/><path d="M215 0H232" transform="rotate(179.625)"/>
<path d="M215 0H283" transform="rotate(173)"/><circle r="215" pathLength="360" stroke-dasharray="6.625 999" transform="rotate(173)"/><path d="M150 0H215" transform="rotate(176.31)"/>
<use href="#q" transform="rotate(157)"/><path d="M262 0H273" transform="rotate(158)"/><path d="M262 0H283" transform="rotate(161)"/>
<circle r="262" pathLength="360" stroke-dasharray="3 999" transform="rotate(158)"/><path d="M248 0H262" transform="rotate(159.5)"/>
<use href="#q" transform="rotate(163)"/><path d="M248 0H273" transform="rotate(164)"/>
<circle r="248" pathLength="360" stroke-dasharray="4.5 999" transform="rotate(159.5)"/><path d="M236 0H248" transform="rotate(161.75)"/>
<path d="M236 0H283" transform="rotate(167)"/><circle r="236" pathLength="360" stroke-dasharray="5.25 999" transform="rotate(161.75)"/><path d="M222 0H236" transform="rotate(164.375)"/>
<use href="#q" transform="rotate(169)"/><path d="M222 0H273" transform="rotate(170)"/>
<circle r="222" pathLength="360" stroke-dasharray="5.625 999" transform="rotate(164.375)"/><path d="M150 0H222" transform="rotate(167.19)"/>
<circle r="150" pathLength="360" stroke-dasharray="9.12 999" transform="rotate(167.19)"/><path d="M50 0H150" transform="rotate(171.75)"/>
<circle r="50" pathLength="360" stroke-dasharray="20.69 999" transform="rotate(171.75)"/>
<circle r="100" pathLength="360" stroke-dasharray="31.75 999" transform="rotate(140)"/>
</g>
<g id="b-root" class="k">
<path d="M-48.8 -10.8L-37 -13L-28 -28L-20 -21L-15.5 -31.5M-12 -29L-6 -22L-1 -25M-3 -23L-2 0L60.5 -13.6"/>
<circle r="100" pathLength="360" stroke-dasharray="36 999" transform="rotate(104)"/>
<path d="M100 0H123" transform="rotate(104)"/>
<circle r="123" pathLength="360" stroke-dasharray="60 999" transform="rotate(44)"/>
<path d="M123 0H196" transform="rotate(91.06)"/>
<path d="M123 0H133" transform="rotate(44)"/>
<path d="M100 0H157" transform="rotate(131.5)"/>
</g>
</g>

<g id="labels-a">
<text x="262" y="27" font-size="16" fill="#D43040">hATx</text>
<text transform="translate(455 53) rotate(28)" font-size="17" fill="#D8303C" dy="6">hAT19</text>
<text transform="translate(573 189) rotate(62)" font-size="16" fill="#A6EEEE" dy="6">Charlie</text>
<text transform="translate(487 556) rotate(-36)" font-size="18" fill="#3A3AD4" dy="6">Tip100</text>
<text transform="translate(160 570) rotate(36)" font-size="18" fill="#C9A45A" dy="6">Tag1</text>
<text transform="translate(29 431) rotate(63)" font-size="16" fill="#6BAF6B" dy="6">Activator</text>
<text transform="translate(44 157) rotate(-50)" font-size="16" fill="#D9A060" dy="6">hATx</text>
</g>
<g id="labels-b">
<text transform="translate(716 84) rotate(-40)" font-size="15" fill="#A8C48A" dy="5">Subfamily Unknown</text>
<text transform="translate(933 127) rotate(-84)" font-size="21" font-weight="bold" fill="#CC22CC" dy="7">M44 family</text>
<text transform="translate(981 188) rotate(83)" font-size="22" font-weight="bold" fill="#DD1111" dy="7">Tc1/DD34E</text>
<text transform="translate(850 338) rotate(36)" font-size="22" font-weight="bold" fill="#111" dy="7">Mariner/DD34D</text>
<text transform="translate(1041 334) rotate(-30)" font-size="20" font-weight="bold" fill="#2F40E0" dy="7">Visitor/DD40D</text>
<text transform="translate(1192 398) rotate(108)" font-size="14" fill="#4B4BE8" dy="5">Subfamily-1</text>
<text transform="translate(1095 540) rotate(138)" font-size="15" fill="#4B4BE8" dy="5">Subfamily-2</text>
<text transform="translate(733 543) rotate(220)" font-size="14" fill="#6E9A5E" dy="5">Irritans</text>
<text x="931" y="609" font-size="15" fill="#8B5A3C">Drosophila</text>
<text transform="translate(619 300) rotate(-90)" font-size="15" fill="#A4E8E8" dy="5">Maurutiana</text>
</g>
</svg>
